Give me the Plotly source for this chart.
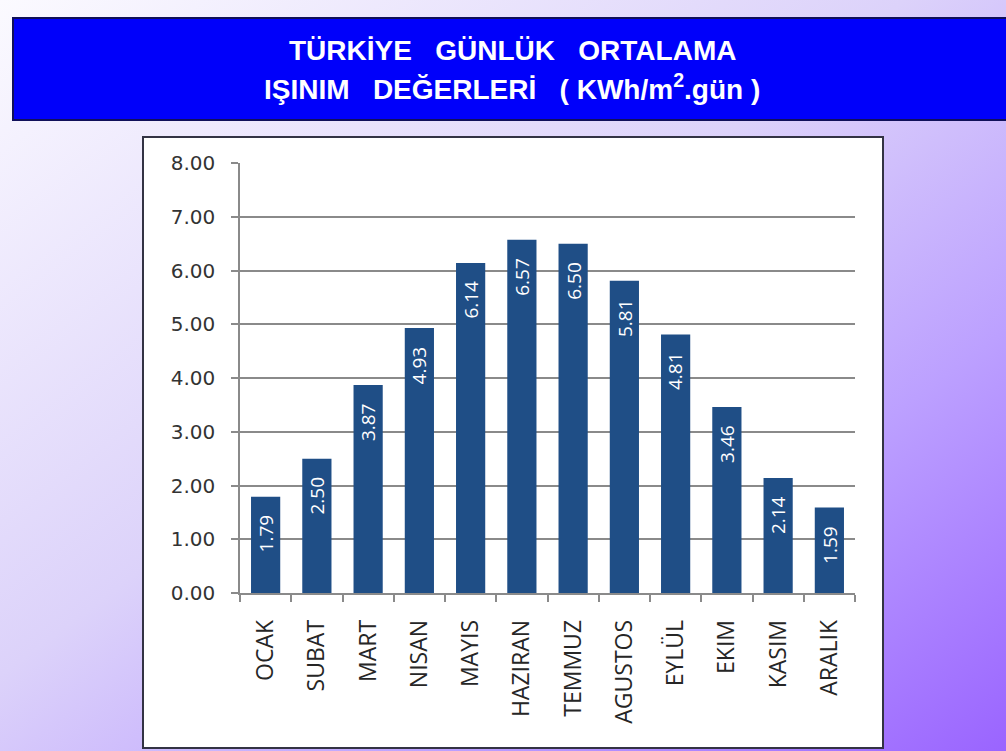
import base64
import plotly.graph_objects as go

# Monthly average daily solar irradiation for Turkey (kWh/m2 per day)
months = ["OCAK", "SUBAT", "MART", "NISAN", "MAYIS", "HAZIRAN",
          "TEMMUZ", "AGUSTOS", "EYLÜL", "EKIM", "KASIM", "ARALIK"]
irradiation = [1.79, 2.50, 3.87, 4.93, 6.14, 6.57, 6.50, 5.81, 4.81, 3.46, 2.14, 1.59]
y_ticks = [0, 1, 2, 3, 4, 5, 6, 7, 8]
y_tick_labels = ["0.00", "1.00", "2.00", "3.00", "4.00", "5.00", "6.00", "7.00", "8.00"]
GAP = "\u00a0" * 3
title_lines = [f"TÜRKİYE{GAP}GÜNLÜK{GAP}ORTALAMA",
               f"IŞINIM{GAP}DEĞERLERİ{GAP}(\u00a0KWh/m<sup>2</sup>.gün\u00a0)"]

W, H = 1006, 751
L, R, T, B = 240, 151, 163, 158
pw, ph = W - L - R, H - T - B


def px_x(x):
    return (x - L) / pw


def px_y(y):
    return (H - B - y) / ph


# Diagonal lavender-to-violet page background
svg = f"""<svg xmlns='http://www.w3.org/2000/svg' width='{W}' height='{H}'>
<defs><linearGradient id='g' x1='0' y1='0' x2='1' y2='1'>
<stop offset='0' stop-color='#fbfaff'/>
<stop offset='0.45' stop-color='#dcd2fa'/>
<stop offset='0.72' stop-color='#bca0ff'/>
<stop offset='1' stop-color='#9a64ff'/>
</linearGradient></defs>
<rect width='{W}' height='{H}' fill='url(#g)'/></svg>"""
bg_src = "data:image/svg+xml;base64," + base64.b64encode(svg.encode()).decode()

fig = go.Figure()
fig.add_trace(go.Bar(
    x=months, y=irradiation,
    marker=dict(color="#1f4e86", line=dict(width=0)),
    width=0.57, hoverinfo="x+y",
))

# Value labels inside the bars, rotated, near the top
for m, v in zip(months, irradiation):
    fig.add_annotation(
        x=m, y=v, text=f"{v:.2f}", showarrow=False, textangle=-90,
        xanchor="center", yanchor="middle", yshift=-37,
        font=dict(family="Open Sans, sans-serif", size=19, color="white"),
    )

# Title lines on the banner
for i, line in enumerate(title_lines):
    fig.add_annotation(
        xref="paper", yref="paper", x=px_x(512), y=px_y(50 + 37 * i),
        text=f"<b>{line}</b>", showarrow=False, xanchor="center", yanchor="middle",
        font=dict(family="Liberation Sans, Arial, sans-serif", size=28, color="white"),
    )

fig.update_layout(
    width=W, height=H,
    margin=dict(l=L, r=R, t=T, b=B, pad=0),
    paper_bgcolor="#efeafc",
    plot_bgcolor="rgba(0,0,0,0)",
    showlegend=False,
    bargap=0.43,
    images=[dict(source=bg_src, xref="paper", yref="paper",
                 x=px_x(0), y=px_y(0), sizex=W / pw, sizey=H / ph,
                 xanchor="left", yanchor="top", sizing="stretch", layer="below")],
    shapes=[
        # blue title banner
        dict(type="rect", xref="paper", yref="paper", layer="below",
             x0=px_x(13), x1=px_x(1010), y0=px_y(18), y1=px_y(120),
             fillcolor="#0000fa", line=dict(color="#10105a", width=2)),
        # white chart panel
        dict(type="rect", xref="paper", yref="paper", layer="below",
             x0=px_x(143), x1=px_x(883), y0=px_y(137), y1=px_y(748),
             fillcolor="white", line=dict(color="#333344", width=2)),
    ],
    xaxis=dict(
        type="category", range=[-0.5, 11.5], tickangle=-90,
        showline=True, linecolor="#8a8a8a", linewidth=1.5,
        ticks="outside", tickson="boundaries", ticklen=7, tickcolor="#8a8a8a", tickwidth=1.5,
        tickfont=dict(family="Open Sans, sans-serif", size=23, color="#262626"),
        ticklabelstandoff=16, showgrid=False, fixedrange=True,
    ),
    yaxis=dict(
        range=[0, 8], tickvals=y_ticks, ticktext=y_tick_labels,
        showline=True, linecolor="#8a8a8a", linewidth=1.5,
        ticks="outside", ticklen=7, tickcolor="#8a8a8a", tickwidth=1.5,
        showgrid=True, gridcolor="#8a8a8a", gridwidth=1.5, zeroline=False,
        tickfont=dict(family="DejaVu Sans, sans-serif", size=20, color="#333333"),
        ticklabelstandoff=12, fixedrange=True,
    ),
)

fig.write_html("out.html")
